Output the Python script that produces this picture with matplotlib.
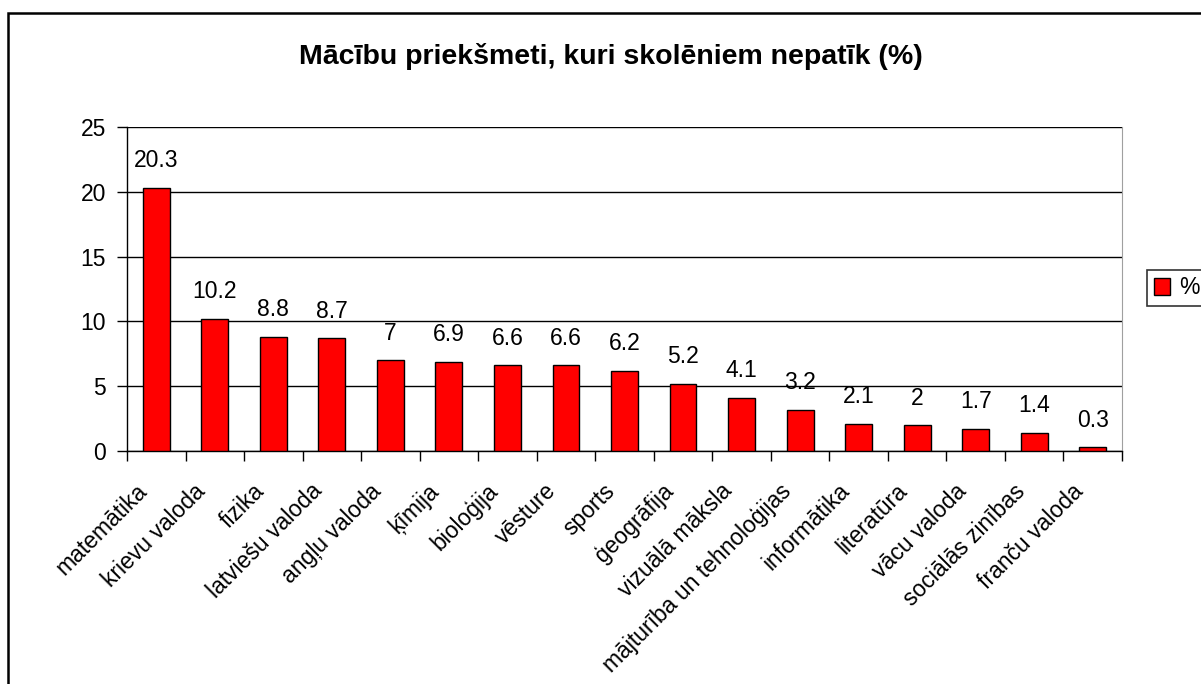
import numpy as np
import matplotlib
matplotlib.use("Agg")
import matplotlib.pyplot as plt
from matplotlib.patches import Rectangle

plt.rcParams["font.family"] = ["Liberation Sans", "DejaVu Sans"]

subjects = [
    "matemātika", "krievu valoda", "fizika", "latviešu valoda", "angļu valoda",
    "ķīmija", "bioloģija", "vēsture", "sports", "ģeogrāfija", "vizuālā māksla",
    "mājturība un tehnoloģijas", "informātika", "literatūra", "vācu valoda",
    "sociālās zinības", "franču valoda",
]
values = [20.3, 10.2, 8.8, 8.7, 7, 6.9, 6.6, 6.6, 6.2, 5.2, 4.1, 3.2, 2.1, 2, 1.7, 1.4, 0.3]
yticks = [0, 5, 10, 15, 20, 25]

FS = 16.5

fig = plt.figure(figsize=(12.01, 6.84), dpi=100)
ax = fig.add_axes([127 / 1201, 1 - 451 / 684, (1122 - 127) / 1201, (451 - 127) / 684])

x = np.arange(len(subjects))
bars = ax.bar(x, values, width=0.46, color="#ff0000", edgecolor="black", linewidth=1, zorder=3)

for xi, v in zip(x, values):
    ax.text(xi, v + 1.2, f"{v:g}", ha="center", va="bottom", fontsize=FS)

ax.set_xlim(-0.5, len(subjects) - 0.5)
ax.set_ylim(0, 25)
ax.set_yticks(yticks)
ax.set_yticklabels([str(t) for t in yticks], fontsize=FS)
ax.yaxis.grid(True, color="black", linewidth=1, zorder=0)
ax.set_axisbelow(True)

ax.set_xticks(np.arange(len(subjects) + 1) - 0.5)
ax.set_xticklabels([])
ax.tick_params(axis="x", direction="out", length=7, width=1)
ax.tick_params(axis="y", direction="out", length=7, width=1, pad=8)
# rotated category labels, end of text just below-left of the bar
for xi, name in zip(x, subjects):
    ax.text(xi - 0.36, -2.2, name, rotation=45, ha="right", va="top",
            rotation_mode="anchor", fontsize=FS)

ax.spines["top"].set_visible(False)
ax.spines["right"].set_color("#a0a0a0")
ax.spines["left"].set_linewidth(1)
ax.spines["bottom"].set_linewidth(1)

fig.text(611 / 1201, 1 - 57 / 684, "Mācību priekšmeti, kuri skolēniem nepatīk (%)",
         ha="center", va="center", fontsize=20.5, fontweight="bold")

leg = fig.legend([bars], ["%"], loc="center left", bbox_to_anchor=(1136 / 1201, 1 - 288 / 684),
                 fontsize=FS, frameon=True, fancybox=False, edgecolor="black",
                 handlelength=0.7, handleheight=0.7, handletextpad=0.4, borderpad=0.3)
leg.get_frame().set_linewidth(1.2)

fig.add_artist(Rectangle((8 / 1201, -0.1), 1.1, 1 - 13 / 684 + 0.1, transform=fig.transFigure,
                         fill=False, edgecolor="black", linewidth=1.8, clip_on=False))

fig.savefig("out.png", dpi=100)
